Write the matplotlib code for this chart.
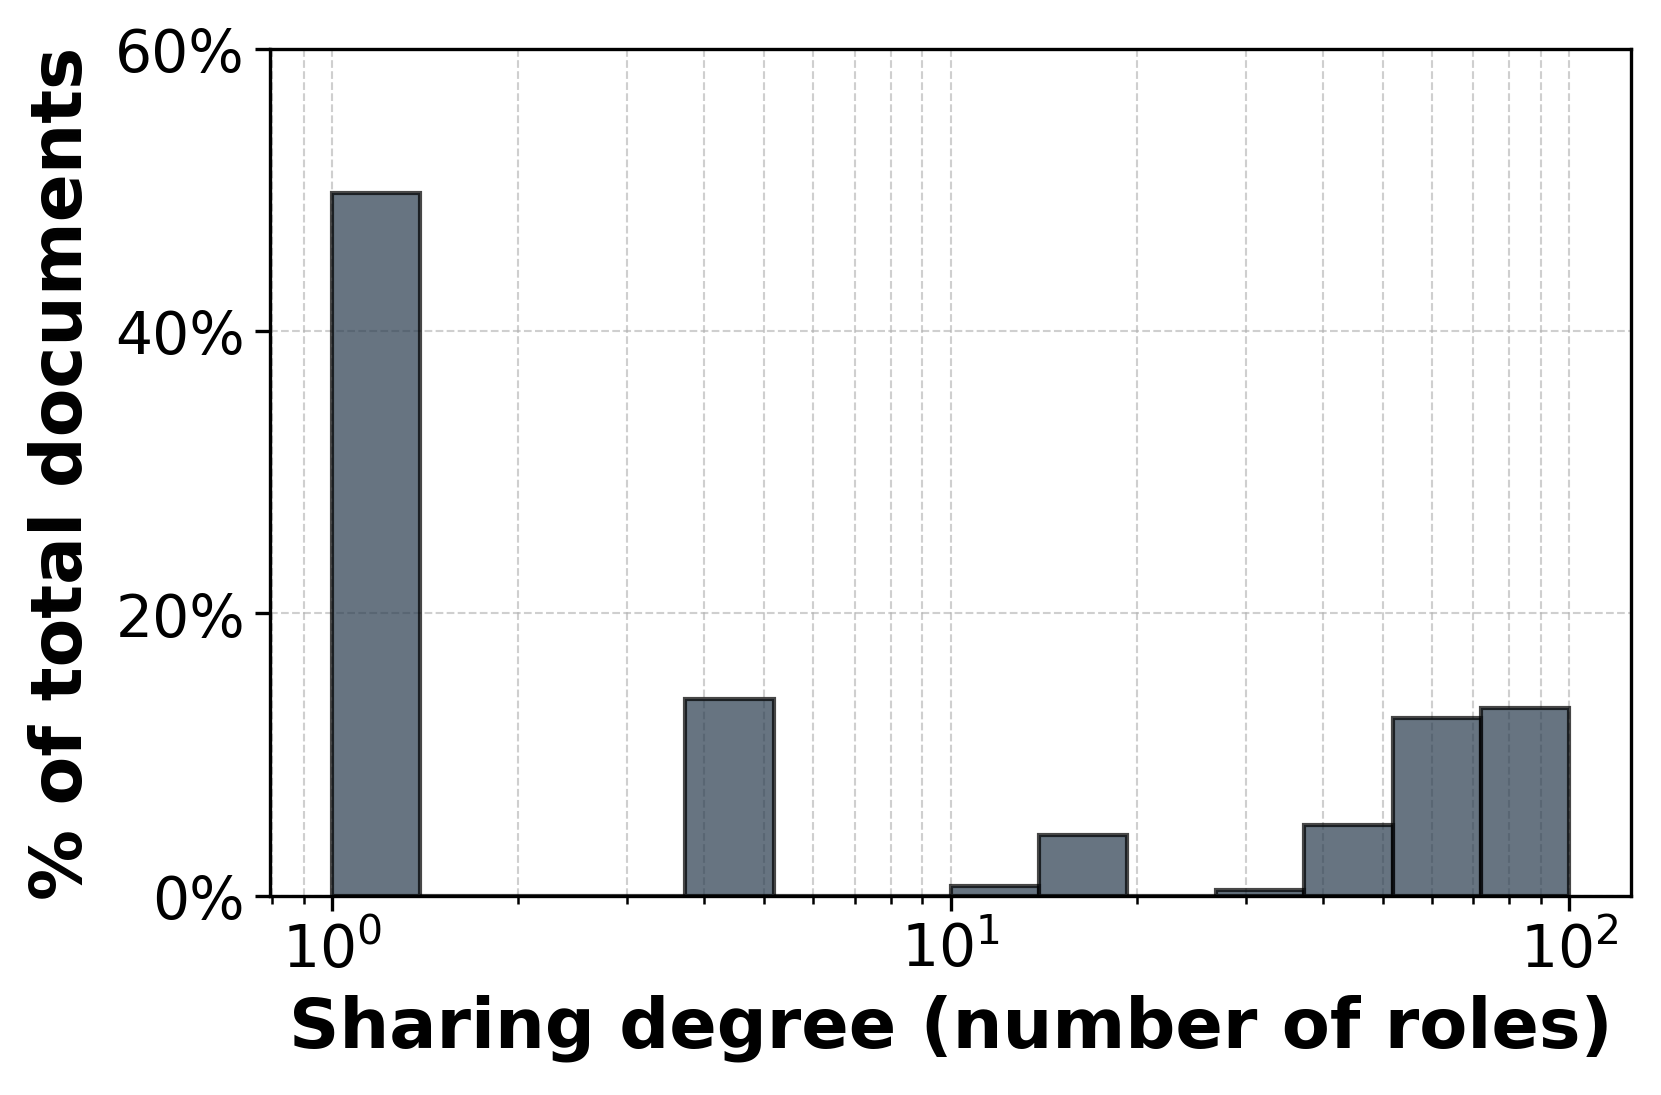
import numpy as np
import matplotlib.pyplot as plt
from matplotlib.ticker import PercentFormatter

# log-spaced bins, 14 bins over two decades
bin_edges = np.logspace(0, 2, 15)
pct = [49.8, 0, 0, 0, 13.9, 0, 0, 0.68, 4.3, 0, 0.38, 5.0, 12.6, 13.3]
centers = np.sqrt(bin_edges[:-1] * bin_edges[1:])

fig, ax = plt.subplots(figsize=(5.537, 3.653), dpi=300)
fig.subplots_adjust(left=0.1626, right=0.982, top=0.9546, bottom=0.182)

ax.hist(centers, bins=bin_edges, weights=pct, color="#2c3e50", alpha=0.72,
        edgecolor="black", linewidth=1.0)
ax.set_xscale("log")
ax.set_ylim(0, 60)
ax.set_yticks([0, 20, 40, 60])
ax.yaxis.set_major_formatter(PercentFormatter(decimals=0))

ax.grid(True, which="major", linestyle="--", linewidth=0.5, alpha=0.6)
ax.grid(True, which="minor", axis="x", linestyle="--", linewidth=0.5, alpha=0.6)
ax.set_axisbelow(True)

ax.tick_params(labelsize=14, pad=2.5)
ax.set_xlabel("Sharing degree (number of roles)", fontsize=16.8, fontweight="bold", labelpad=3.5)
ax.set_ylabel("% of total documents", fontsize=17, fontweight="bold", labelpad=4.5)

fig.savefig("out.png", dpi=300)
